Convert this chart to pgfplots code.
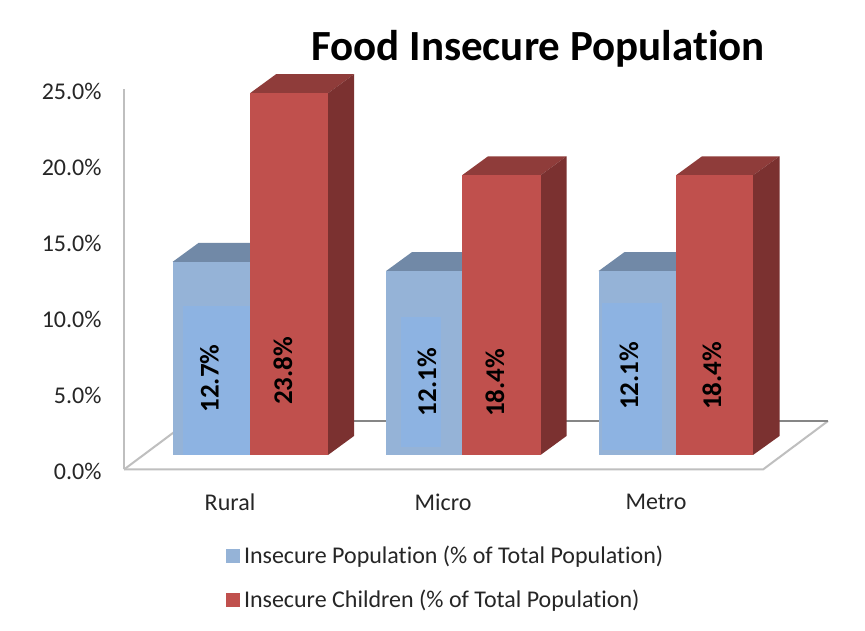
\documentclass[border=0pt]{standalone}
\usepackage{fontspec}
\setmainfont[Ligatures={NoCommon}]{Carlito}
\usepackage{pgfplots}
\pgfplotsset{compat=1.18}
\definecolor{bluefront}{HTML}{95B3D7}
\definecolor{bluetop}{HTML}{7189A7}
\definecolor{bluelabel}{HTML}{8DB3E2}
\definecolor{redfront}{HTML}{C0504D}
\definecolor{redtop}{HTML}{8F3C3A}
\definecolor{redside}{HTML}{7B3130}
\definecolor{wallgray}{HTML}{BFBFBF}
\definecolor{backgray}{HTML}{868686}
\definecolor{tickink}{HTML}{262626}
\begin{document}
\begin{tikzpicture}[x=1pt,y=1pt]
\useasboundingbox (0,0) rectangle (865,631);
\fill[white] (0,0) rectangle (865,631);
% value axis, floor and category labels
\begin{axis}[
  at={(124pt,161.5pt)}, anchor=south west,
  scale only axis, width=705pt, height=380pt,
  xmin=124, xmax=829, ymin=0, ymax=25,
  clip=false,
  axis y line*=left, axis x line=none,
  y axis line style={draw=wallgray, line width=2pt, -},
  ytick={0,5,10,15,20,25},
  yticklabels={0.0\%,5.0\%,10.0\%,15.0\%,20.0\%,25.0\%},
  major tick length=0pt,
  yticklabel style={font=\fontsize{24}{26}\selectfont, text=tickink, anchor=east, xshift=-19pt, yshift=-1.5pt},
]
\addplot[fill=white, draw=none, forget plot] coordinates {(124,0) (763,0) (828,3.19) (189,3.19)} --cycle;
\addplot[wallgray, line width=2pt, forget plot] coordinates {(124,0) (763,0) (828,3.19)};
\addplot[wallgray, line width=2pt, forget plot] coordinates {(124,0) (189,3.19)};
\addplot[backgray, line width=2pt, forget plot] coordinates {(189,3.19) (828,3.19)};
\end{axis}
% bars, on the same scale with their feet raised above the floor edge
\begin{axis}[
  at={(124pt,161.5pt)}, anchor=south west,
  scale only axis, width=705pt, height=380pt,
  xmin=124, xmax=829, ymin=-0.954, ymax=24.046,
  clip=false, hide axis,
  legend style={draw=none, fill=none, at={(axis cs:226,-6.0)}, anchor=north west,
    font=\fontsize{24}{26}\selectfont, text=tickink,
    row sep=25pt, inner sep=0pt, outer sep=0pt,
    nodes={inner sep=0pt, anchor=west}},
  legend cell align=left,
]
% rural
\addplot[fill=bluetop, draw=none, forget plot] coordinates {(172.5,12.7) (250,12.7) (276,13.95) (198.5,13.95)} --cycle;
\addplot[ybar, bar width=77.5pt, bar shift=0pt, fill=bluefront, draw=none, forget plot] coordinates {(211.25,12.7)};
\addplot[fill=bluelabel, draw=none, forget plot] coordinates {(183,0) (250,0) (250,9.8) (183,9.8)} --cycle;
\addplot[fill=redtop, draw=none, forget plot] coordinates {(250,23.8) (328,23.8) (354,25.05) (276,25.05)} --cycle;
\addplot[fill=redside, draw=none, forget plot] coordinates {(328,0) (354,1.25) (354,25.05) (328,23.8)} --cycle;
\addplot[ybar, bar width=78pt, bar shift=0pt, fill=redfront, draw=none, forget plot] coordinates {(289,23.8)};
% micro
\addplot[fill=bluetop, draw=none, forget plot] coordinates {(386,12.1) (462,12.1) (488,13.35) (412,13.35)} --cycle;
\addplot[ybar, bar width=76pt, bar shift=0pt, fill=bluefront, draw=none, forget plot] coordinates {(424,12.1)};
\addplot[fill=bluelabel, draw=none, forget plot] coordinates {(401,0.5) (441,0.5) (441,9.08) (401,9.08)} --cycle;
\addplot[fill=redtop, draw=none, forget plot] coordinates {(462,18.4) (540.5,18.4) (566.5,19.65) (488,19.65)} --cycle;
\addplot[fill=redside, draw=none, forget plot] coordinates {(540.5,0) (566.5,1.25) (566.5,19.65) (540.5,18.4)} --cycle;
\addplot[ybar, bar width=78.5pt, bar shift=0pt, fill=redfront, draw=none, forget plot] coordinates {(501.25,18.4)};
% metro
\addplot[fill=bluetop, draw=none, forget plot] coordinates {(598.5,12.1) (676,12.1) (702,13.35) (624.5,13.35)} --cycle;
\addplot[ybar, bar width=77.5pt, bar shift=0pt, fill=bluefront, draw=none, forget plot] coordinates {(637.25,12.1)};
\addplot[fill=bluelabel, draw=none, forget plot] coordinates {(602,0.33) (662,0.33) (662,10) (602,10)} --cycle;
\addplot[fill=redtop, draw=none, forget plot] coordinates {(676,18.4) (753,18.4) (779.5,19.65) (702,19.65)} --cycle;
\addplot[fill=redside, draw=none, forget plot] coordinates {(753,0) (779.5,1.25) (779.5,19.65) (753,18.4)} --cycle;
\addplot[ybar, bar width=77pt, bar shift=0pt, fill=redfront, draw=none, forget plot] coordinates {(714.5,18.4)};
% value labels along the bars
\begin{scope}[every node/.style={rotate=90, font=\fontsize{27}{30}\selectfont\bfseries, text=black, inner sep=0pt}]
\node at (axis cs:209.5,5.03) {12.7\%};
\node at (axis cs:283,5.53) {23.8\%};
\node at (axis cs:427,4.80) {12.1\%};
\node at (axis cs:495,4.74) {18.4\%};
\node at (axis cs:629,5.2) {12.1\%};
\node at (axis cs:712,5.2) {18.4\%};
\end{scope}
% category names and title
\begin{scope}[every node/.style={font=\fontsize{24}{26}\selectfont, text=tickink, inner sep=0pt}]
\node at (axis cs:230,-3.1) {Rural};
\node at (axis cs:443,-3.1) {Micro};
\node at (axis cs:656,-3.1) {Metro};
\end{scope}
\node[font=\fontsize{43}{47}\selectfont\bfseries, text=black, inner sep=0pt] at (axis cs:538,26.7) {Food Insecure Population};
% legend entries
\addlegendimage{legend image code/.code={\fill[bluefront,draw=none] (0pt,-7pt) rectangle (14pt,7pt); \path[draw=none] (0pt,0pt) -- (18pt,0pt);}}
\addlegendentry{Insecure Population (\% of Total Population)}
\addlegendimage{legend image code/.code={\fill[redfront,draw=none] (0pt,-7pt) rectangle (14pt,7pt); \path[draw=none] (0pt,0pt) -- (18pt,0pt);}}
\addlegendentry{Insecure Children (\% of Total Population)}
\end{axis}
\end{tikzpicture}
\end{document}
